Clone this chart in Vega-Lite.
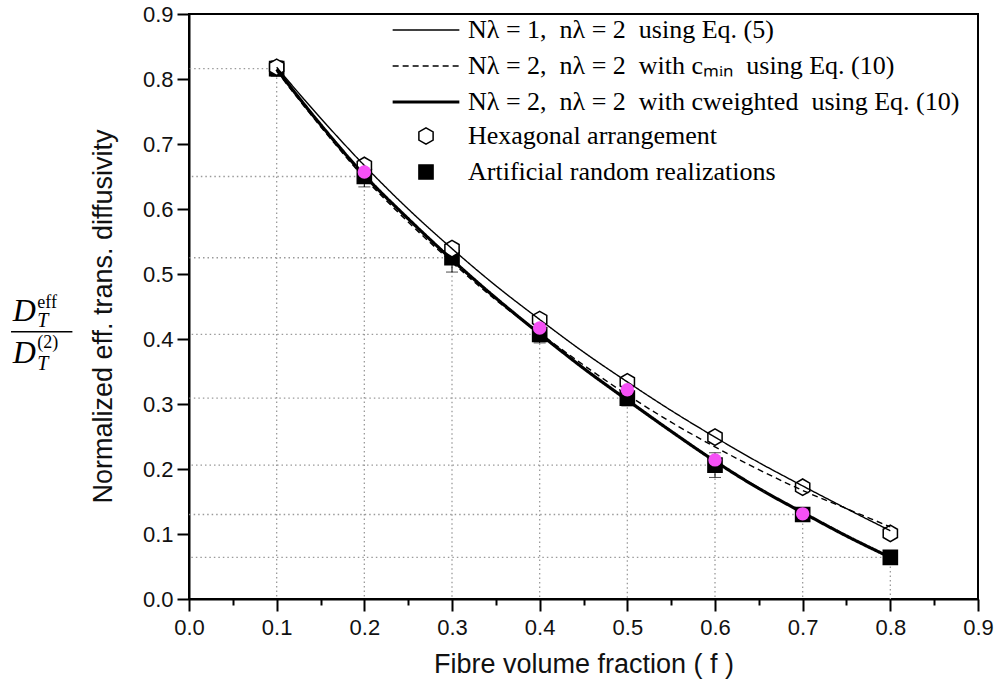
{
  "$schema": "https://vega.github.io/schema/vega-lite/v6.json",
  "width": 789,
  "height": 585,
  "autosize": {"type": "none"},
  "padding": {"left": 189, "top": 14, "right": 17, "bottom": 98},
  "background": "white",
  "config": {
    "view": {"stroke": "#000", "strokeWidth": 2},
    "axis": {
      "grid": false,
      "domainColor": "#000",
      "domainWidth": 2,
      "tickColor": "#000",
      "tickWidth": 2,
      "labelColor": "#111",
      "labelFont": "Liberation Sans",
      "labelFontSize": 22,
      "labelOverlap": false,
      "labelFlush": false,
      "titleFont": "Liberation Sans",
      "titleFontSize": 27,
      "titleFontWeight": "normal",
      "titleColor": "#111"
    },
    "legend": {
      "labelFont": "Liberation Serif",
      "labelFontSize": 26,
      "labelColor": "#000",
      "labelLimit": 700,
      "padding": 0
    }
  },
  "datasets": {
    "curves": [
      {"f": 0.10, "v": 0.818, "s": "a"}, {"f": 0.15, "v": 0.740, "s": "a"}, {"f": 0.20, "v": 0.667, "s": "a"}, {"f": 0.25, "v": 0.600, "s": "a"}, {"f": 0.30, "v": 0.539, "s": "a"}, {"f": 0.35, "v": 0.482, "s": "a"}, {"f": 0.40, "v": 0.430, "s": "a"}, {"f": 0.45, "v": 0.380, "s": "a"}, {"f": 0.50, "v": 0.334, "s": "a"}, {"f": 0.55, "v": 0.290, "s": "a"}, {"f": 0.60, "v": 0.249, "s": "a"}, {"f": 0.65, "v": 0.210, "s": "a"}, {"f": 0.70, "v": 0.174, "s": "a"}, {"f": 0.75, "v": 0.139, "s": "a"}, {"f": 0.80, "v": 0.105, "s": "a"},
      {"f": 0.10, "v": 0.812, "s": "b"}, {"f": 0.15, "v": 0.727, "s": "b"}, {"f": 0.20, "v": 0.648, "s": "b"}, {"f": 0.25, "v": 0.580, "s": "b"}, {"f": 0.30, "v": 0.518, "s": "b"}, {"f": 0.35, "v": 0.460, "s": "b"}, {"f": 0.40, "v": 0.409, "s": "b"}, {"f": 0.45, "v": 0.360, "s": "b"}, {"f": 0.50, "v": 0.314, "s": "b"}, {"f": 0.55, "v": 0.272, "s": "b"}, {"f": 0.60, "v": 0.234, "s": "b"}, {"f": 0.65, "v": 0.199, "s": "b"}, {"f": 0.70, "v": 0.167, "s": "b"}, {"f": 0.75, "v": 0.139, "s": "b"}, {"f": 0.80, "v": 0.111, "s": "b"},
      {"f": 0.10, "v": 0.815, "s": "c"}, {"f": 0.15, "v": 0.730, "s": "c"}, {"f": 0.20, "v": 0.652, "s": "c"}, {"f": 0.25, "v": 0.585, "s": "c"}, {"f": 0.30, "v": 0.522, "s": "c"}, {"f": 0.35, "v": 0.463, "s": "c"}, {"f": 0.40, "v": 0.408, "s": "c"}, {"f": 0.45, "v": 0.355, "s": "c"}, {"f": 0.50, "v": 0.306, "s": "c"}, {"f": 0.55, "v": 0.258, "s": "c"}, {"f": 0.60, "v": 0.212, "s": "c"}, {"f": 0.65, "v": 0.170, "s": "c"}, {"f": 0.70, "v": 0.133, "s": "c"}, {"f": 0.75, "v": 0.097, "s": "c"}, {"f": 0.80, "v": 0.064, "s": "c"}
    ],
    "random": [
      {"f": 0.1, "v": 0.816, "lo": 0.804, "hi": 0.828},
      {"f": 0.2, "v": 0.650, "lo": 0.634, "hi": 0.666},
      {"f": 0.3, "v": 0.525, "lo": 0.503, "hi": 0.547},
      {"f": 0.4, "v": 0.407, "lo": 0.394, "hi": 0.420},
      {"f": 0.5, "v": 0.309, "lo": 0.297, "hi": 0.321},
      {"f": 0.6, "v": 0.206, "lo": 0.187, "hi": 0.225},
      {"f": 0.7, "v": 0.130, "lo": 0.122, "hi": 0.138},
      {"f": 0.8, "v": 0.064, "lo": 0.062, "hi": 0.066}
    ],
    "markers": [
      {"f": 0.1, "v": 0.816, "k": "sq"}, {"f": 0.2, "v": 0.650, "k": "sq"}, {"f": 0.3, "v": 0.525, "k": "sq"}, {"f": 0.4, "v": 0.407, "k": "sq"}, {"f": 0.5, "v": 0.309, "k": "sq"}, {"f": 0.6, "v": 0.206, "k": "sq"}, {"f": 0.7, "v": 0.130, "k": "sq"}, {"f": 0.8, "v": 0.064, "k": "sq"},
      {"f": 0.1, "v": 0.818, "k": "hex"}, {"f": 0.2, "v": 0.667, "k": "hex"}, {"f": 0.3, "v": 0.539, "k": "hex"}, {"f": 0.4, "v": 0.430, "k": "hex"}, {"f": 0.5, "v": 0.334, "k": "hex"}, {"f": 0.6, "v": 0.249, "k": "hex"}, {"f": 0.7, "v": 0.172, "k": "hex"}, {"f": 0.8, "v": 0.101, "k": "hex"}
    ],
    "magenta": [
      {"f": 0.2, "v": 0.657}, {"f": 0.4, "v": 0.417}, {"f": 0.5, "v": 0.322}, {"f": 0.6, "v": 0.214}, {"f": 0.7, "v": 0.131}
    ]
  },
  "layer": [
    {
      "data": {"name": "random"},
      "mark": {"type": "rule", "color": "#9a9a9a", "strokeWidth": 1.3, "strokeDash": [1.5, 3]},
      "encoding": {
        "x": {
          "field": "f", "type": "quantitative",
          "scale": {"domain": [0, 0.9], "nice": false, "zero": false},
          "axis": {
            "values": [0, 0.05, 0.1, 0.15, 0.2, 0.25, 0.3, 0.35, 0.4, 0.45, 0.5, 0.55, 0.6, 0.65, 0.7, 0.75, 0.8, 0.85, 0.9],
            "labelExpr": "round(datum.value*20) % 2 == 0 ? format(datum.value, '.1f') : ''",
            "tickSize": {"condition": {"test": "round(datum.value*20) % 2 == 0", "value": 12}, "value": 6},
            "labelPadding": 6,
            "title": "Fibre volume fraction ( f )",
            "titlePadding": 13
          }
        },
        "x2": {"datum": 0},
        "y": {
          "field": "v", "type": "quantitative",
          "scale": {"domain": [0, 0.9], "nice": false, "zero": false},
          "axis": {
            "values": [0, 0.05, 0.1, 0.15, 0.2, 0.25, 0.3, 0.35, 0.4, 0.45, 0.5, 0.55, 0.6, 0.65, 0.7, 0.75, 0.8, 0.85, 0.9],
            "labelExpr": "round(datum.value*20) % 2 == 0 ? format(datum.value, '.1f') : ''",
            "tickSize": {"condition": {"test": "round(datum.value*20) % 2 == 0", "value": 12}, "value": 6},
            "labelPadding": 4,
            "title": "Normalized eff. trans. diffusivity",
            "titlePadding": 25,
            "titleY": 302
          }
        }
      }
    },
    {
      "data": {"name": "random"},
      "mark": {"type": "rule", "color": "#9a9a9a", "strokeWidth": 1.3, "strokeDash": [1.5, 3]},
      "encoding": {
        "x": {"field": "f", "type": "quantitative"},
        "y": {"field": "v", "type": "quantitative"},
        "y2": {"datum": 0}
      }
    },
    {
      "data": {"name": "random"},
      "mark": {"type": "rule", "color": "#000", "strokeWidth": 1},
      "encoding": {
        "x": {"field": "f", "type": "quantitative"},
        "y": {"field": "lo", "type": "quantitative"},
        "y2": {"field": "hi"}
      }
    },
    {
      "data": {"name": "random"},
      "mark": {"type": "tick", "orient": "horizontal", "color": "#000", "thickness": 1, "size": 12},
      "encoding": {
        "x": {"field": "f", "type": "quantitative"},
        "y": {"field": "lo", "type": "quantitative"}
      }
    },
    {
      "data": {"name": "random"},
      "mark": {"type": "tick", "orient": "horizontal", "color": "#000", "thickness": 1, "size": 12},
      "encoding": {
        "x": {"field": "f", "type": "quantitative"},
        "y": {"field": "hi", "type": "quantitative"}
      }
    },
    {
      "data": {"name": "markers"},
      "mark": {"type": "point", "filled": false, "stroke": "#000", "strokeWidth": 1.5, "opacity": 1},
      "encoding": {
        "x": {"field": "f", "type": "quantitative"},
        "y": {"field": "v", "type": "quantitative"},
        "shape": {
          "field": "k", "type": "nominal",
          "scale": {"domain": ["hex", "sq"], "range": ["M0,-1L0.866,-0.5L0.866,0.5L0,1L-0.866,0.5L-0.866,-0.5Z", "square"]},
          "legend": {
            "title": null, "orient": "none", "legendX": 224, "legendY": 109,
            "rowPadding": 10, "labelOffset": 29, "symbolStrokeColor": "#000", "symbolStrokeWidth": 1.5,
            "labelExpr": "datum.value == 'hex' ? 'Hexagonal arrangement' : 'Artificial random realizations'"
          }
        },
        "fill": {
          "field": "k", "type": "nominal",
          "scale": {"domain": ["hex", "sq"], "range": ["#ffffff", "#000000"]},
          "legend": {
            "title": null, "orient": "none", "legendX": 224, "legendY": 109,
            "rowPadding": 10, "labelOffset": 29,
            "labelExpr": "datum.value == 'hex' ? 'Hexagonal arrangement' : 'Artificial random realizations'"
          }
        },
        "size": {
          "field": "k", "type": "nominal",
          "scale": {"type": "ordinal", "domain": ["hex", "sq"], "range": [270, 200]},
          "legend": {
            "title": null, "orient": "none", "legendX": 224, "legendY": 109,
            "rowPadding": 10, "labelOffset": 29,
            "labelExpr": "datum.value == 'hex' ? 'Hexagonal arrangement' : 'Artificial random realizations'"
          }
        }
      }
    },
    {
      "data": {"name": "curves"},
      "mark": {"type": "line", "color": "#000", "interpolate": "monotone"},
      "encoding": {
        "x": {"field": "f", "type": "quantitative"},
        "y": {"field": "v", "type": "quantitative"},
        "detail": {"field": "s"},
        "strokeDash": {
          "field": "s", "type": "nominal",
          "scale": {"domain": ["a", "b", "c"], "range": [[1, 0], [6, 4], [1, 0]]},
          "legend": {
            "title": null, "orient": "none", "legendX": 224, "legendY": 3,
            "rowPadding": 10, "symbolType": "M-5,0L5,0", "symbolSize": 178, "symbolStrokeColor": "#000", "labelOffset": 29,
            "labelExpr": "datum.value == 'a' ? 'Nλ = 1,\u00a0\u00a0nλ = 2\u00a0\u00a0using Eq. (5)' : datum.value == 'b' ? 'Nλ = 2,\u00a0\u00a0nλ = 2\u00a0\u00a0with cₘᵢₙ\u00a0\u00a0using Eq. (10)' : 'Nλ = 2,\u00a0\u00a0nλ = 2\u00a0\u00a0with cweighted\u00a0\u00a0using Eq. (10)'"
          }
        },
        "strokeWidth": {
          "field": "s", "type": "nominal",
          "scale": {"type": "ordinal", "domain": ["a", "b", "c"], "range": [1.4, 1.4, 3.2]},
          "legend": {
            "title": null, "orient": "none", "legendX": 224, "legendY": 3,
            "rowPadding": 10, "symbolType": "M-5,0L5,0", "symbolSize": 178, "symbolStrokeColor": "#000", "labelOffset": 29,
            "labelExpr": "datum.value == 'a' ? 'Nλ = 1,\u00a0\u00a0nλ = 2\u00a0\u00a0using Eq. (5)' : datum.value == 'b' ? 'Nλ = 2,\u00a0\u00a0nλ = 2\u00a0\u00a0with cₘᵢₙ\u00a0\u00a0using Eq. (10)' : 'Nλ = 2,\u00a0\u00a0nλ = 2\u00a0\u00a0with cweighted\u00a0\u00a0using Eq. (10)'"
          }
        }
      }
    },
    {
      "data": {"name": "magenta"},
      "mark": {"type": "circle", "color": "#f550f5", "opacity": 1, "size": 180},
      "encoding": {
        "x": {"field": "f", "type": "quantitative"},
        "y": {"field": "v", "type": "quantitative"}
      }
    },
    {
      "data": {"values": [{"t": "D"}]},
      "mark": {"type": "text", "font": "Liberation Serif", "fontStyle": "italic", "fontSize": 32, "align": "center", "baseline": "middle", "clip": false, "color": "#000"},
      "encoding": {"text": {"field": "t"}, "x": {"datum": -0.188}, "y": {"datum": 0.443}}
    },
    {
      "data": {"values": [{"t": "eff"}]},
      "mark": {"type": "text", "font": "Liberation Serif", "fontSize": 18, "align": "left", "baseline": "middle", "clip": false, "color": "#000"},
      "encoding": {"text": {"field": "t"}, "x": {"datum": -0.173}, "y": {"datum": 0.456}}
    },
    {
      "data": {"values": [{"t": "T"}]},
      "mark": {"type": "text", "font": "Liberation Serif", "fontStyle": "italic", "fontSize": 20, "align": "left", "baseline": "middle", "clip": false, "color": "#000"},
      "encoding": {"text": {"field": "t"}, "x": {"datum": -0.173}, "y": {"datum": 0.427}}
    },
    {
      "data": {"values": [{"t": "bar"}]},
      "mark": {"type": "rule", "color": "#000", "strokeWidth": 1.5, "clip": false},
      "encoding": {"x": {"datum": -0.203}, "x2": {"datum": -0.133}, "y": {"datum": 0.411}}
    },
    {
      "data": {"values": [{"t": "D"}]},
      "mark": {"type": "text", "font": "Liberation Serif", "fontStyle": "italic", "fontSize": 32, "align": "center", "baseline": "middle", "clip": false, "color": "#000"},
      "encoding": {"text": {"field": "t"}, "x": {"datum": -0.188}, "y": {"datum": 0.378}}
    },
    {
      "data": {"values": [{"t": "(2)"}]},
      "mark": {"type": "text", "font": "Liberation Serif", "fontSize": 18, "align": "left", "baseline": "middle", "clip": false, "color": "#000"},
      "encoding": {"text": {"field": "t"}, "x": {"datum": -0.173}, "y": {"datum": 0.394}}
    },
    {
      "data": {"values": [{"t": "T"}]},
      "mark": {"type": "text", "font": "Liberation Serif", "fontStyle": "italic", "fontSize": 20, "align": "left", "baseline": "middle", "clip": false, "color": "#000"},
      "encoding": {"text": {"field": "t"}, "x": {"datum": -0.173}, "y": {"datum": 0.362}}
    }
  ]
}
